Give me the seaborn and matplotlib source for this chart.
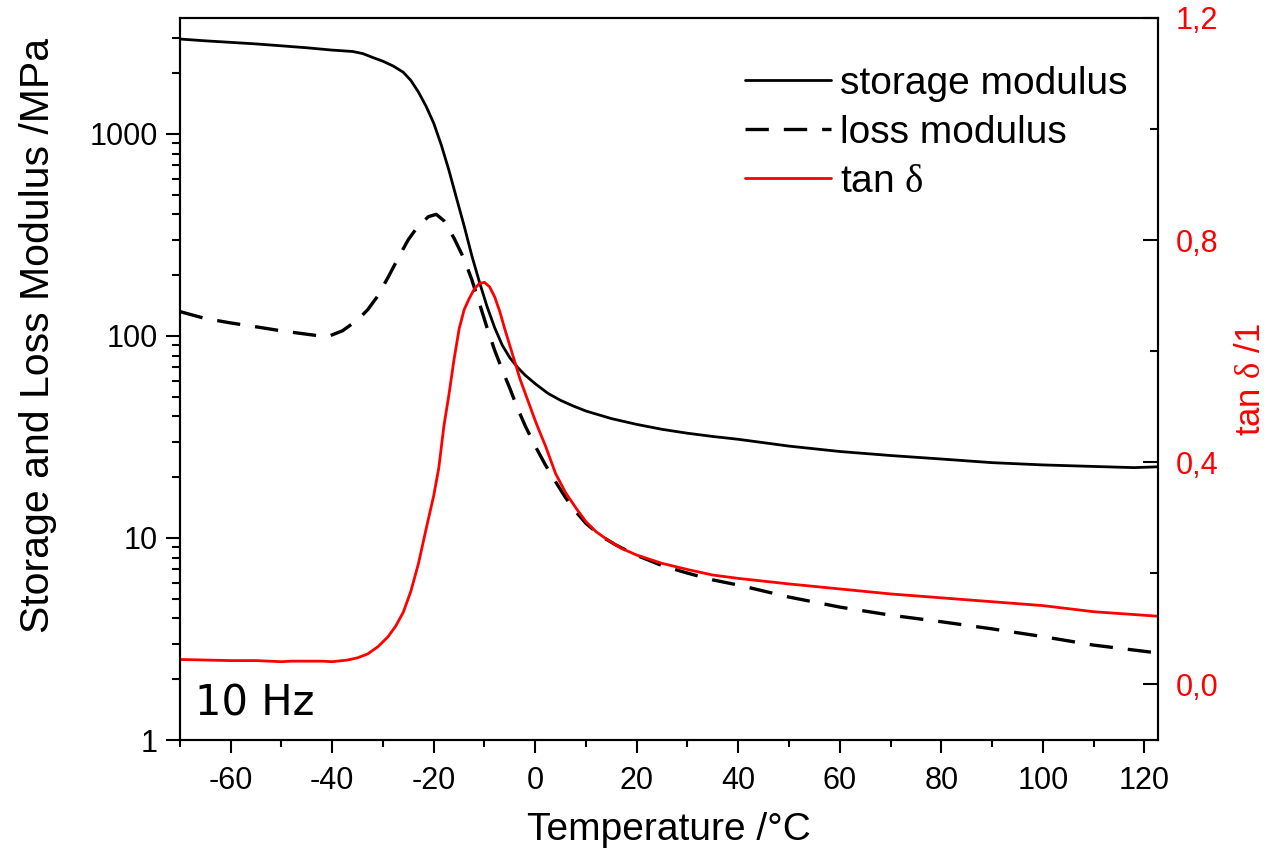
import matplotlib
matplotlib.use("Agg")
import matplotlib.pyplot as plt
import seaborn as sns
from matplotlib.ticker import FixedLocator, LogLocator, MultipleLocator, FuncFormatter, NullFormatter

# Storage modulus E' (MPa) vs temperature (°C)
temp_storage = [-70, -65, -60, -55, -50, -45, -40, -36, -34, -32, -30, -28, -26, -24.5, -23,
                -21.5, -20, -18.5, -17, -15.5, -14, -12.5, -11, -9.5, -8, -6.5, -5, -3.5, -2,
                0, 2.5, 5, 7.5, 10, 15, 20, 25, 30, 35, 40, 50, 60, 70, 80, 90, 100, 110, 118, 122.5]
storage_modulus = [2950, 2890, 2840, 2790, 2730, 2670, 2600, 2560, 2500, 2390, 2290, 2170, 2020, 1840, 1610,
                   1370, 1130, 880, 660, 480, 350, 250, 185, 140, 110, 90, 78, 70, 64,
                   58, 52, 48, 45, 42.5, 39, 36.5, 34.5, 33, 31.8, 30.8, 28.5, 26.8, 25.6, 24.6, 23.6, 23.0, 22.6, 22.3, 22.5]

# Loss modulus E'' (MPa) vs temperature (°C)
temp_loss = [-70, -65, -60, -55, -50, -45, -41, -38, -35, -33, -31, -29, -27, -25, -23, -21, -19.5,
             -18, -16, -14, -12.5, -11, -9.5, -8, -6.5, -5, -3.5, -2, 0, 2, 4, 6, 8, 10, 13, 16, 20,
             25, 30, 35, 40, 50, 60, 70, 80, 90, 100, 110, 122.5]
loss_modulus = [132, 122, 116, 111, 106, 102, 99, 106, 120, 135, 158, 195, 243, 300, 352, 390, 400,
                372, 305, 240, 190, 145, 110, 85, 68, 55, 44, 36, 28.5, 23, 19, 15.8, 13.5, 11.8, 10.2, 9.2, 8.2,
                7.3, 6.7, 6.2, 5.85, 5.1, 4.55, 4.15, 3.85, 3.55, 3.25, 2.95, 2.7]

# Loss factor tan delta vs temperature (°C)
temp_tan = [-70, -65, -60, -55, -50, -48, -45, -42, -40, -37, -35, -33, -31, -29, -27.5, -26, -24.5,
            -23, -21.5, -20, -19, -18, -17, -16, -15, -14, -13, -12, -11, -10, -9, -8, -7, -6, -5,
            -4, -3, -2, -1, 0, 1, 2, 3, 4, 6, 8, 10, 12, 14, 17, 20, 25, 30, 35, 40, 50, 60, 70,
            80, 90, 100, 110, 122.5]
tan_delta = [0.045, 0.044, 0.043, 0.043, 0.041, 0.042, 0.042, 0.042, 0.041, 0.044, 0.048, 0.055, 0.068,
             0.086, 0.105, 0.130, 0.168, 0.218, 0.280, 0.340, 0.390, 0.465, 0.522, 0.585, 0.640, 0.675,
             0.695, 0.712, 0.722, 0.724, 0.716, 0.698, 0.672, 0.640, 0.610, 0.580, 0.550, 0.525, 0.500,
             0.475, 0.452, 0.430, 0.405, 0.380, 0.345, 0.318, 0.293, 0.275, 0.262, 0.245, 0.233, 0.218,
             0.207, 0.197, 0.191, 0.181, 0.172, 0.163, 0.156, 0.149, 0.142, 0.131, 0.123]

x_ticks = [-60, -40, -20, 0, 20, 40, 60, 80, 100, 120]
left_ticks = [1, 10, 100, 1000]
right_ticks = [0.0, 0.4, 0.8, 1.2]
series_labels = ["storage modulus", "loss modulus", r"tan $\mathrm{\delta}$"]

sns.set_theme(style="ticks")
plt.rcParams["font.family"] = ["Liberation Sans", "DejaVu Sans"]
plt.rcParams["mathtext.fontset"] = "custom"
plt.rcParams["mathtext.rm"] = "Liberation Serif"
plt.rcParams["mathtext.it"] = "Liberation Serif"
plt.rcParams["axes.linewidth"] = 1.5
plt.rcParams["axes.unicode_minus"] = False
plt.rcParams["text.color"] = "black"
plt.rcParams["axes.labelcolor"] = "black"
plt.rcParams["xtick.color"] = "black"
plt.rcParams["ytick.color"] = "black"

fig = plt.figure(figsize=(12.7, 8.56), dpi=100)
ax = fig.add_axes([0.1417, 0.1355, 0.7701, 0.8435])
ax2 = ax.twinx()

sns.lineplot(x=temp_storage, y=storage_modulus, ax=ax, color="black", lw=2.0, legend=False)
sns.lineplot(x=temp_loss, y=loss_modulus, ax=ax, color="black", lw=2.4,
             linestyle=(0, (7, 4.5)), legend=False)
sns.lineplot(x=temp_tan, y=tan_delta, ax=ax2, color="red", lw=2.0, legend=False)

line_storage, line_loss = ax.lines[0], ax.lines[1]
line_tan = ax2.lines[0]

# Axes ranges and scales
ax.set_xlim(-70, 122.7)
ax.set_yscale("log")
ax.set_ylim(1, 3750)
ax2.set_ylim(-0.1, 1.2)

# Bottom axis ticks
ax.xaxis.set_major_locator(FixedLocator(x_ticks))
ax.xaxis.set_minor_locator(MultipleLocator(10))
ax.xaxis.set_ticks_position("bottom")
ax.tick_params(axis="x", which="major", direction="out", length=9.5, width=1.5, pad=9,
               labelsize=22, colors="black")
ax.tick_params(axis="x", which="minor", direction="out", length=5, width=1.5)

# Left (log) axis ticks
ax.yaxis.set_major_locator(FixedLocator(left_ticks))
ax.yaxis.set_major_formatter(FuncFormatter(lambda v, p: f"{v:g}"))
ax.yaxis.set_minor_locator(LogLocator(base=10, subs=range(2, 10)))
ax.yaxis.set_minor_formatter(NullFormatter())
ax.tick_params(axis="y", which="major", direction="out", length=10, width=1.5, pad=6,
               labelsize=22, colors="black")
ax.tick_params(axis="y", which="minor", direction="out", length=5.5, width=1.5)

# Right (tan delta) axis ticks, comma decimals
ax2.yaxis.set_major_locator(FixedLocator(right_ticks))
ax2.yaxis.set_minor_locator(MultipleLocator(0.2))
ax2.yaxis.set_major_formatter(FuncFormatter(lambda v, p: f"{v:.1f}".replace(".", ",")))
ax2.tick_params(axis="y", which="major", direction="in", length=11, width=1.5, pad=13,
                labelsize=22, color="black", labelcolor="red")
ax2.tick_params(axis="y", which="minor", direction="in", length=6, width=1.5, color="black")

for a in (ax, ax2):
    for s in a.spines.values():
        s.set_linewidth(1.5)
        s.set_color("black")

# Axis labels
ax.set_xlabel("Temperature /°C", fontsize=28, labelpad=12, color="black")
ax.set_ylabel("Storage and Loss Modulus /MPa", fontsize=29.5, color="black")
ax.yaxis.set_label_coords(-0.126, 0.56)
ax2.set_ylabel(r"tan $\mathrm{\delta}$ /1", fontsize=25, color="red")
ax2.yaxis.set_label_coords(1.078, 0.5)

ax.text(0.015, 0.022, "10 Hz", transform=ax.transAxes, fontsize=30,
        family="DejaVu Sans", ha="left", va="bottom", color="black")

ax2.legend([line_storage, line_loss, line_tan], series_labels, loc="upper right",
           bbox_to_anchor=(0.985, 0.955), borderaxespad=0, frameon=False, fontsize=28,
           handlelength=2.2, handletextpad=0.25, labelspacing=0.33)

fig.savefig("out.png", dpi=100)
